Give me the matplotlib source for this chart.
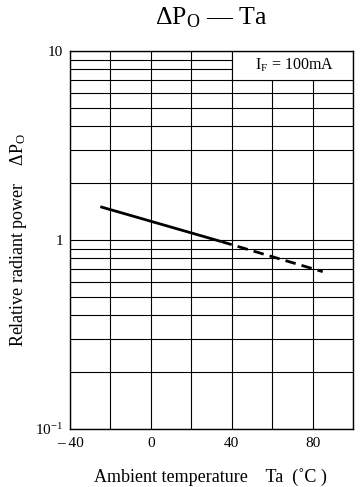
import numpy as np
import matplotlib
matplotlib.use("Agg")
import matplotlib.pyplot as plt
from matplotlib.patches import Rectangle
from matplotlib.ticker import FixedLocator, NullFormatter

plt.rcParams['font.family'] = ['Liberation Serif', 'DejaVu Serif']
plt.rcParams['mathtext.fontset'] = 'custom'
plt.rcParams['mathtext.rm'] = 'Liberation Serif'
plt.rcParams['mathtext.it'] = 'Liberation Serif:italic'

# measured curve (solid part, then dashed extrapolation)
ta_solid = [-25, 35]
po_solid = [1.5, 0.98]
ta_dash = [35, 85]
po_dash = [0.98, 0.68]

x_ticks = [-40, 0, 40, 80]
x_tick_labels = ['– 40', '0', '40', '80']
y_ticks = [0.1, 1, 10]
y_tick_labels = [r'$10^{-1}$', '1', '10']

fig = plt.figure(figsize=(3.63, 4.87), dpi=100)
ax = fig.add_axes([0.1928, 0.1191, 0.7797, 0.7762])

ax.set_yscale('log')
ax.set_xlim(-40, 100)
ax.set_ylim(0.1, 10)

ax.xaxis.set_major_locator(FixedLocator(x_ticks))
ax.xaxis.set_minor_locator(FixedLocator(np.arange(-40, 101, 20)))
ax.set_xticklabels(x_tick_labels, fontsize=11)
ax.yaxis.set_major_locator(FixedLocator(y_ticks))
minor_y = [m * d for d in (0.1, 1) for m in range(2, 10)]
ax.yaxis.set_minor_locator(FixedLocator(minor_y))
ax.yaxis.set_minor_formatter(NullFormatter())
ax.set_yticklabels(y_tick_labels, fontsize=11)
ax.tick_params(axis='x', which='both', length=0, pad=6)
ax.tick_params(axis='y', which='both', length=0, pad=5)

ax.grid(True, which='both', color='black', linewidth=0.8)
for s in ax.spines.values():
    s.set_linewidth(1.0)

ax.plot(ta_solid, po_solid, color='black', lw=2.0, solid_capstyle='butt', zorder=3)
ax.plot(ta_dash, po_dash, color='black', lw=2.0, dashes=(3.8, 2.2), zorder=3)

# condition box in top-right corner
ax.add_patch(Rectangle((40, 7), 60, 3, facecolor='white', edgecolor='black',
                       linewidth=0.8, zorder=2.5))
ax.text(71, 8.45, r'I$_\mathrm{F}$ = 100mA', ha='center', va='center',
        fontsize=11.5, zorder=4)

fig.text(0.581, 0.949, r'$\Delta\mathrm{P}_\mathrm{O}$ — Ta', ha='center',
         va='baseline', fontsize=18.5)
fig.text(0.581, 0.011, 'Ambient temperature    Ta  (˚C )', ha='center',
         va='baseline', fontsize=13)
fig.text(0.052, 0.508, r'Relative radiant power    $\Delta\mathrm{P}_\mathrm{O}$',
         rotation=90, ha='center', va='center', fontsize=13)

fig.savefig('out.png', dpi=100)
